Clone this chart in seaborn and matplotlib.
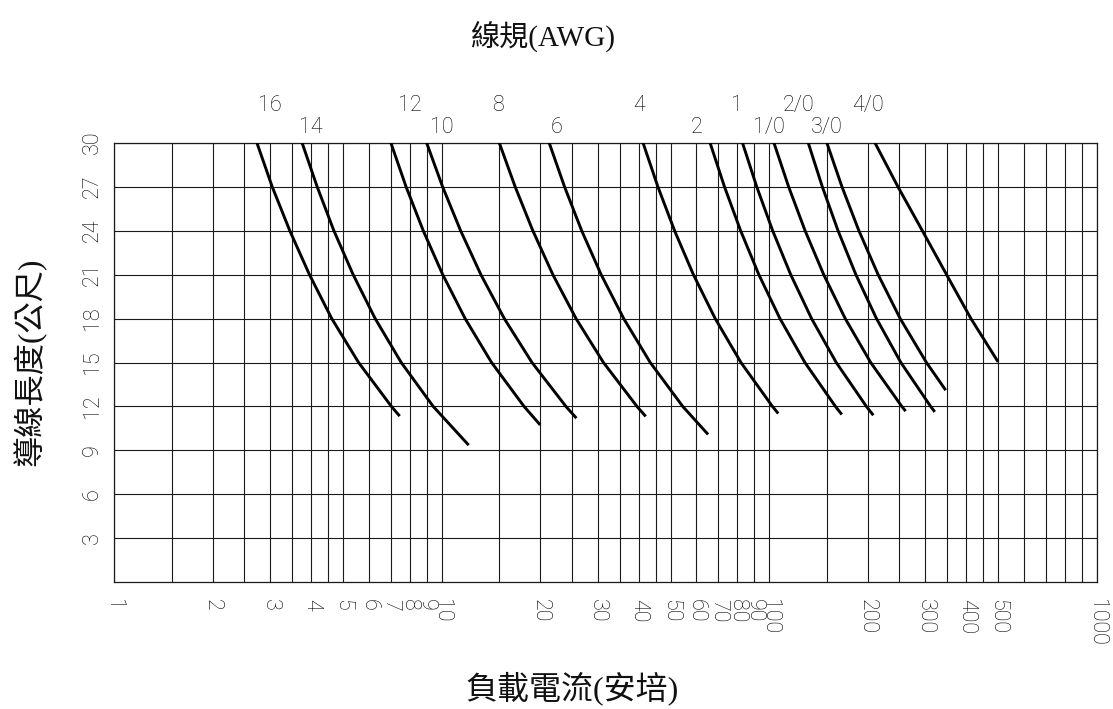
import matplotlib
matplotlib.use("Agg")
import matplotlib.pyplot as plt
from matplotlib.ticker import NullFormatter
import numpy as np
import pandas as pd
import seaborn as sns

# ---------------- data ----------------
# wire gauge names, in drawing order (left to right)
gauges = ["16", "14", "12", "10", "8", "6", "4", "2", "1", "1/0", "2/0", "3/0", "4/0"]

# wire lengths (m) at which the currents were read (horizontal grid lines)
levels = [30, 27, 24, 21, 18, 15, 12]

# load current (A) of each curve at the levels above
amps_16 = [2.73, 3.04, 3.44, 3.95, 4.62, 5.58, 7.03]
amps_14 = [3.75, 4.17, 4.69, 5.37, 6.27, 7.53, 9.43]
amps_12 = [7.0, 7.79, 8.79, 10.08, 11.8, 14.21, 17.86]
amps_10 = [9.0, 10.07, 11.43, 13.18, 15.54, 18.88, 23.97]
amps_8 = [15.0, 16.77, 18.99, 21.86, 25.73, 31.2, 39.5]
amps_6 = [21.3, 23.73, 26.77, 30.7, 35.97, 43.35, 54.5]
amps_4 = [41.2, 45.74, 51.43, 58.71, 68.44, 82.03, 102.37]
amps_2 = [66.0, 73.04, 81.82, 93.01, 107.89, 128.59, 159.36]
amps_1 = [82.9, 91.63, 102.49, 116.36, 134.74, 160.26, 198.11]
amps_1_0 = [103.4, 114.66, 128.73, 146.73, 170.72, 204.18, 254.14]
amps_2_0 = [131.6, 145.29, 162.29, 183.97, 212.65, 252.41, 311.24]
amps_3_0 = [150.0, 166.8, 187.9, 215.1, 251.2, 302.1]
amps_4_0 = [210.3, 247.2, 293.5, 348.0, 413.0]

# end point of every curve (length m, current A)
end_len = [11.34, 9.36, 10.74, 11.2, 11.32, 10.09, 11.52, 11.45, 11.4, 11.68, 11.63, 13.11, 15.04]
end_amp = [7.45, 12.1, 20.0, 25.8, 42.0, 65.1, 106.6, 166.7, 208.0, 261.0, 320.4, 346.0, 500.0]

# x tick labels (current axis) and the extra (unlabelled) grid values
x_labels = [1, 2, 3, 4, 5, 6, 7, 8, 9, 10, 20, 30, 40, 50, 60, 70, 80, 90, 100,
            200, 300, 400, 500, 1000]
x_grid_extra = [1.5, 2.5, 3.5, 4.5, 15, 25, 35, 45, 150, 250, 350, 450, 600, 700, 800, 900]
y_labels = [3, 6, 9, 12, 15, 18, 21, 24, 27, 30]

# gauge captions above the chart: anchor current and row (0 = upper)
caption_amp = [3.0, 4.0, 8.0, 10.0, 15.0, 22.5, 40.0, 60.0, 80.0, 100.0, 123.0, 150.0, 200.0]
caption_row = [0, 1, 0, 1, 0, 1, 0, 1, 0, 1, 0, 1, 0]

title_text = "線規(AWG)"
xlabel_text = "負載電流(安培)"
ylabel_text = "導線長度(公尺)"

# ---------------- build table ----------------
all_amps = [amps_16, amps_14, amps_12, amps_10, amps_8, amps_6, amps_4, amps_2,
            amps_1, amps_1_0, amps_2_0, amps_3_0, amps_4_0]
rows = []
for g, amps, el, ea in zip(gauges, all_amps, end_len, end_amp):
    for L, a in zip(levels, amps):
        rows.append({"gauge": g, "amps": a, "length": L})
    rows.append({"gauge": g, "amps": ea, "length": el})
df = pd.DataFrame(rows)

# ---------------- plot ----------------
sns.set_theme(style="white")
tick_font = ["Roboto", "DejaVu Sans"]
cjk_font = ["Liberation Serif", "Noto Sans CJK TC", "DejaVu Sans"]
plt.rcParams["font.family"] = ["Noto Sans CJK TC", "DejaVu Sans"]

W, H = 1113, 709
fig = plt.figure(figsize=(W / 100, H / 100), dpi=100)
fig.patch.set_facecolor("white")
left, right, top, bottom = 114, 1096.7, 142.7, 582.3
ax = fig.add_axes([left / W, 1 - bottom / H, (right - left) / W, (bottom - top) / H])

sns.lineplot(data=df, x="amps", y="length", units="gauge", estimator=None,
             sort=False, color="black", linewidth=2.1, ax=ax, legend=False,
             zorder=3, solid_joinstyle="round", solid_capstyle="butt")

ax.set_xscale("log")
ax.set_xlim(1, 1000)
ax.set_ylim(0, 30)
ax.set_xlabel("")
ax.set_ylabel("")

ax.set_xticks(x_labels)
ax.set_xticklabels([str(v) for v in x_labels])
ax.set_xticks(x_grid_extra, minor=True)
ax.xaxis.set_minor_formatter(NullFormatter())
ax.set_yticks(y_labels)
ax.set_yticklabels([str(v) for v in y_labels])

grid_kw = dict(color="#1a1a1a", linewidth=0.8)
ax.grid(True, which="both", axis="x", **grid_kw)
ax.grid(True, which="major", axis="y", **grid_kw)
for s in ax.spines.values():
    s.set_color("#1a1a1a")
    s.set_linewidth(0.9)

tick_size = 15.5
ax.tick_params(axis="both", which="both", length=0)
ax.tick_params(axis="x", pad=12)
ax.tick_params(axis="y", pad=8)
for lab in ax.get_xticklabels():
    lab.set_rotation(-90)
    lab.set_fontfamily(tick_font)
    lab.set_fontweight("light")
    lab.set_fontsize(tick_size)
    lab.set_color("#000000")
    lab.set_va("top")
    lab.set_ha("center")
for lab in ax.get_yticklabels():
    lab.set_rotation(90)
    lab.set_fontfamily(tick_font)
    lab.set_fontweight("light")
    lab.set_fontsize(tick_size)
    lab.set_color("#000000")
    lab.set_va("center")
    lab.set_ha("right")

# gauge captions
row_y = [32.57, 31.04]
for g, a, r in zip(gauges, caption_amp, caption_row):
    ax.text(a, row_y[r], g, ha="center", va="center", fontsize=tick_size,
            fontfamily=tick_font, fontweight="light", color="#000000", clip_on=False)

fig.text(543 / W, 1 - 36 / H, title_text, ha="center", va="center",
         fontsize=21, fontfamily=cjk_font, color="#111111")
fig.text(572 / W, 1 - 688 / H, xlabel_text, ha="center", va="center",
         fontsize=23, fontfamily=cjk_font, color="#111111")
fig.text(30 / W, 1 - 362 / H, ylabel_text, ha="center", va="center", rotation=90,
         fontsize=22.5, fontfamily=cjk_font, color="#111111")

fig.savefig("out.png", dpi=100, facecolor="white")
